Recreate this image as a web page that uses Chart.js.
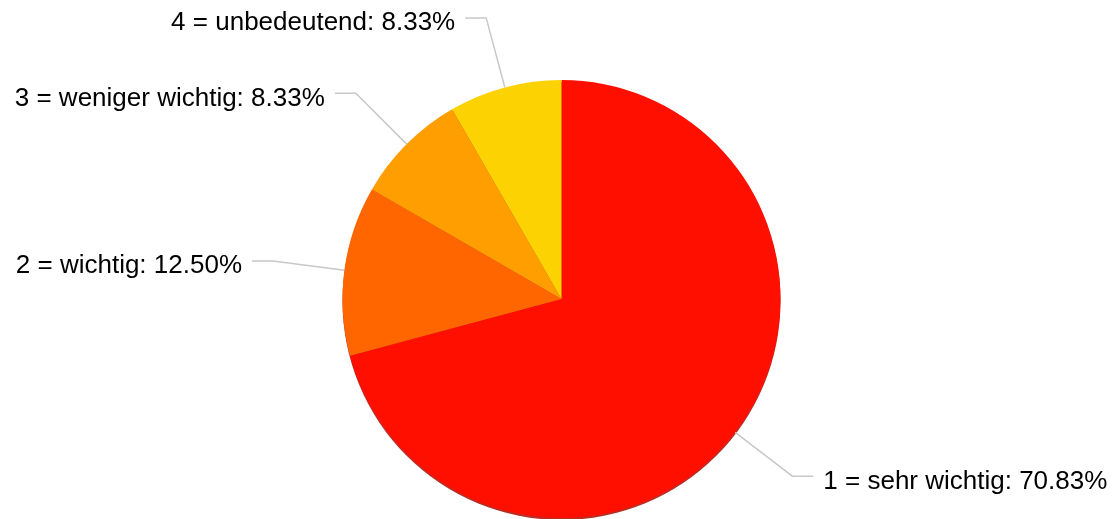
<!DOCTYPE html>
<html lang="de">
<head>
  <meta charset="UTF-8">
  <title>Wichtigkeit</title>
  <script src="https://cdn.jsdelivr.net/npm/chart.js"></script>
  <style>
    html, body { margin: 0; padding: 0; background: #fff; }
    #wrap { width: 1114px; height: 519px; }
  </style>
</head>
<body>
<div id="wrap"><canvas id="pie"></canvas></div>

<script>
const categories = ['1 = sehr wichtig', '2 = wichtig', '3 = weniger wichtig', '4 = unbedeutend'];
const percents = [70.83, 12.50, 8.33, 8.33];
const sliceColors = ['#FF0F00', '#FF6600', '#FF9E01', '#FCD202'];

// dunkler Rand unten (wie der Schatten im Original)
const rimShadow = {
  id: 'rimShadow',
  beforeDatasetsDraw(chart) {
    const arc = chart.getDatasetMeta(0).data[0];
    if (!arc) return;
    const ctx = chart.ctx;
    ctx.save();
    ctx.beginPath();
    ctx.arc(arc.x, arc.y + 2, arc.outerRadius, 0, Math.PI * 2);
    ctx.fillStyle = 'rgba(170, 10, 0, 0.85)';
    ctx.fill();
    ctx.restore();
  }
};

// Beschriftungen mit Verbindungslinien
const pieLabels = {
  id: 'pieLabels',
  afterDatasetsDraw(chart) {
    const ctx = chart.ctx;
    const arcs = chart.getDatasetMeta(0).data;
    ctx.save();
    ctx.font = '26px "Liberation Sans", Arial, sans-serif';
    ctx.fillStyle = '#000';
    ctx.strokeStyle = '#c8c8c8';
    ctx.lineWidth = 1.5;
    arcs.forEach((arc, i) => {
      const mid = (arc.startAngle + arc.endAngle) / 2;
      const cos = Math.cos(mid), sin = Math.sin(mid);
      const r = arc.outerRadius;
      const x0 = arc.x + cos * r, y0 = arc.y + sin * r;
      const x1 = arc.x + cos * (r + 72), y1 = arc.y + sin * (r + 72);
      const dir = cos >= 0 ? 1 : -1;
      const x2 = x1 + dir * 21;
      ctx.beginPath();
      ctx.moveTo(x0, y0);
      ctx.lineTo(x1, y1);
      ctx.lineTo(x2, y1);
      ctx.stroke();
      ctx.textAlign = dir > 0 ? 'left' : 'right';
      ctx.textBaseline = 'alphabetic';
      const txt = categories[i] + ': ' + percents[i].toFixed(2) + '%';
      ctx.fillText(txt, x2 + dir * 10, y1 + 12.5);
    });
    ctx.restore();
  }
};

new Chart(document.getElementById('pie'), {
  type: 'pie',
  data: {
    labels: categories,
    datasets: [{
      data: percents,
      backgroundColor: sliceColors,
      borderWidth: 0,
      hoverOffset: 0
    }]
  },
  options: {
    responsive: true,
    maintainAspectRatio: false,
    animation: false,
    layout: { padding: { top: 80, bottom: 1, left: 342.5, right: 333.5 } },
    plugins: {
      legend: { display: false },
      tooltip: { enabled: false }
    }
  },
  plugins: [rimShadow, pieLabels]
});
</script>
</body>
</html>
